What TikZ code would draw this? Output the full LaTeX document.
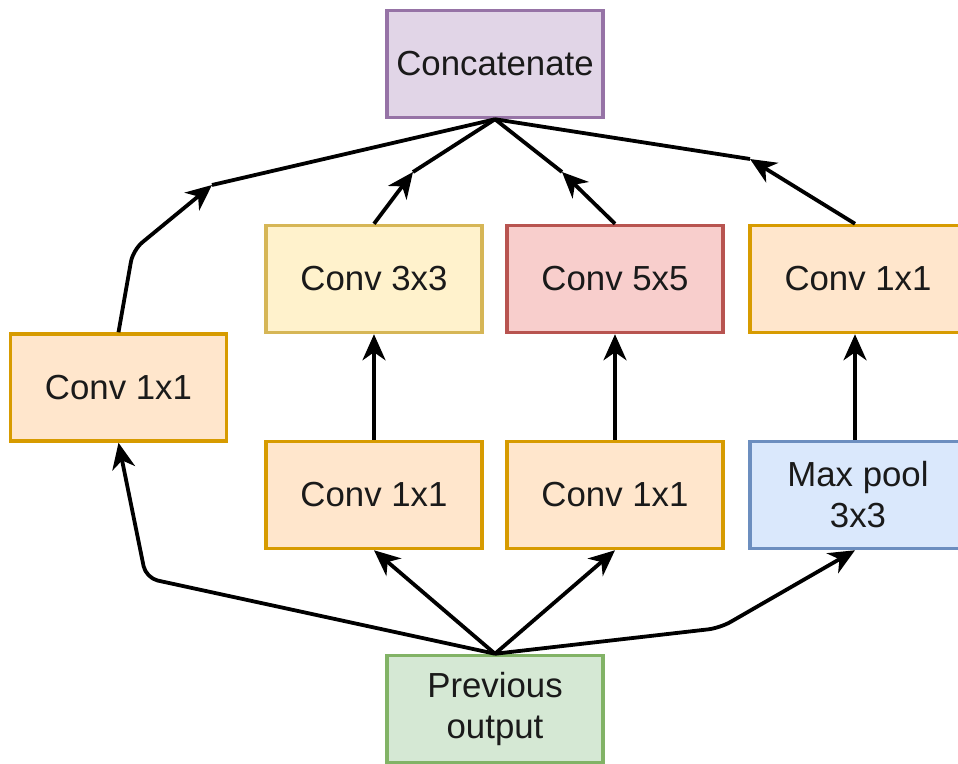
\documentclass[tikz,border=0pt]{standalone}
\usepackage{fontspec}
\setmainfont{Liberation Sans}
\usetikzlibrary{arrows.meta}
\definecolor{purpF}{HTML}{E1D5E7}\definecolor{purpD}{HTML}{9673A6}
\definecolor{oranF}{HTML}{FFE6CC}\definecolor{oranD}{HTML}{D79B00}
\definecolor{yellF}{HTML}{FFF2CC}\definecolor{yellD}{HTML}{D6B656}
\definecolor{redF}{HTML}{F8CECC}\definecolor{redD}{HTML}{B85450}
\definecolor{bluF}{HTML}{DAE8FC}\definecolor{bluD}{HTML}{6C8EBF}
\definecolor{grnF}{HTML}{D5E8D4}\definecolor{grnD}{HTML}{82B366}
\definecolor{txt}{HTML}{1A1A1A}
\tikzset{
  box/.style={draw, line width=3.5pt, minimum width=216pt, minimum height=107pt,
    inner sep=0pt, align=center, text=txt, font=\fontsize{34.8}{41}\selectfont},
  purp/.style={box, fill=purpF, draw=purpD},
  oran/.style={box, fill=oranF, draw=oranD},
  yell/.style={box, fill=yellF, draw=yellD},
  redb/.style={box, fill=redF, draw=redD},
  blub/.style={box, fill=bluF, draw=bluD},
  grnb/.style={box, fill=grnF, draw=grnD},
  conn/.style={line width=3.8pt, black, line join=round},
  arr/.style={conn, -{Stealth[length=26pt 0, width=23pt 0, inset=8pt 0]}},
}
\begin{document}
\begin{tikzpicture}[x=1pt, y=-1pt]
\useasboundingbox (0,0) rectangle (958,763);
\clip (0,0) rectangle (958,763);
\node[purp] (concat) at (495,64) {Concatenate};
\node[oran] (c1a) at (118.5,387.5) {Conv 1x1};
\node[yell] (c3) at (374,279) {Conv 3x3};
\node[redb] (c5) at (615,279) {Conv 5x5};
\node[oran] (c1d) at (858,279) {Conv 1x1};
\node[oran] (c1b) at (374,495) {Conv 1x1};
\node[oran] (c1c) at (615,495) {Conv 1x1};
\node[blub] (mp) at (858,495) {Max pool\\3x3};
\node[grnb] (prev) at (495,709) {Previous\\output};
% waypoints
\coordinate (wl) at (133,250);
\coordinate (ml) at (212,185);
\coordinate (m3) at (413,172);
\coordinate (m5) at (562,172);
\coordinate (mr) at (750,159);
\coordinate (bl) at (146,578);
\coordinate (br) at (720,628);
% upper connectors
\draw[arr, rounded corners=12pt] (c1a.north) -- (wl) -- (ml);
\draw[conn] (ml) -- (concat.south);
\draw[arr] (c3.north) -- (m3);
\draw[conn] (m3) -- (concat.south);
\draw[arr] (c5.north) -- (m5);
\draw[conn] (m5) -- (concat.south);
\draw[arr] ([xshift=-3pt]c1d.north) -- (mr);
\draw[conn] (mr) -- (concat.south);
% middle connectors
\draw[arr] (c1b.north) -- (c3.south);
\draw[arr] (c1c.north) -- (c5.south);
\draw[arr] ([xshift=-3pt]mp.north) -- ([xshift=-3pt]c1d.south);
% lower connectors
\draw[arr, rounded corners=12pt] (prev.north) -- (bl) -- (c1a.south);
\draw[arr] (prev.north) -- (c1b.south);
\draw[arr] (prev.north) -- (c1c.south);
\draw[arr, rounded corners=12pt] (prev.north) -- (br) -- ([xshift=-3pt]mp.south);
\end{tikzpicture}
\end{document}
